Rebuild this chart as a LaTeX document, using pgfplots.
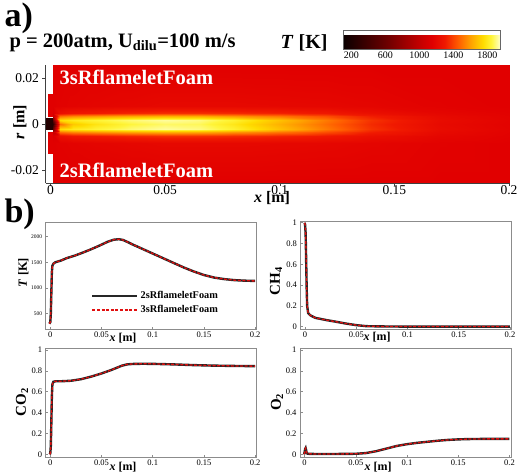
\documentclass[border=0pt]{standalone}
\usepackage{fontspec}
\setmainfont{Liberation Serif}
\usepackage{pgfplots}
\usepackage{pgfplotstable}
\pgfplotsset{compat=1.18}

\definecolor{bgred}{RGB}{225,0,0}
\definecolor{curvered}{RGB}{225,15,15}
\definecolor{framegray}{RGB}{140,140,140}
\definecolor{jetdark}{RGB}{35,0,0}

\pgfplotstableread{
x T
-0.001 300
0 330
0.0005 500
0.001 900
0.0015 1300
0.002 1430
0.003 1470
0.005 1500
0.01 1530
0.016 1580
0.024 1630
0.032 1690
0.04 1755
0.048 1825
0.056 1900
0.062 1940
0.067 1950
0.071 1935
0.076 1890
0.08 1850
0.09 1760
0.1 1670
0.11 1580
0.12 1490
0.13 1400
0.14 1320
0.15 1250
0.16 1200
0.17 1170
0.18 1150
0.19 1140
0.2 1135
}\Tdata

\pgfplotstableread{
x Y
-0.0005 1.0
0 0.98
0.0005 0.9
0.001 0.65
0.0015 0.38
0.002 0.2
0.003 0.13
0.005 0.11
0.01 0.085
0.02 0.065
0.03 0.048
0.04 0.03
0.05 0.015
0.06 0.005
0.08 0.002
0.1 0.001
0.15 0.001
0.2 0.001
}\CHdata

\pgfplotstableread{
x Y
-0.0005 0
0 0.01
0.0005 0.08
0.001 0.3
0.0015 0.55
0.002 0.67
0.003 0.695
0.005 0.70
0.01 0.70
0.02 0.705
0.03 0.72
0.04 0.745
0.05 0.775
0.06 0.81
0.065 0.83
0.07 0.85
0.075 0.862
0.08 0.866
0.09 0.868
0.1 0.867
0.12 0.862
0.14 0.855
0.16 0.85
0.18 0.847
0.2 0.845
}\COdata

\pgfplotstableread{
x Y
-0.0005 0.0
0 0.02
0.0005 0.05
0.001 0.06
0.0015 0.04
0.002 0.015
0.003 0.005
0.01 0.003
0.03 0.003
0.05 0.005
0.06 0.012
0.07 0.03
0.08 0.055
0.09 0.08
0.1 0.097
0.11 0.11
0.12 0.12
0.13 0.13
0.14 0.138
0.15 0.143
0.16 0.146
0.18 0.148
0.2 0.148
}\Odata

\pgfplotsset{
  bstyle/.style={
    scale only axis, anchor=south west, width=211pt,
    xmin=-0.0045, xmax=0.2015,
    scaled ticks=false,
    axis line style={framegray, line width=0.8pt},
    tick style={framegray, line width=0.6pt}, major tick length=2.5pt,
    xtick pos=bottom, ytick pos=left,
    xtick={0,0.05,0.1,0.15,0.2}, xticklabels={0,0.05,0.1,0.15,0.2},
    ticklabel style={font=\fontsize{8.5}{10}\selectfont},
    xticklabel style={yshift=1pt},
    /pgf/number format/assume math mode=true,
  },
  blk/.style={black!85, line width=2.4pt},
  rdd/.style={curvered, line width=1.3pt, dash pattern=on 3pt off 1.6pt},
}

\begin{document}
\begin{tikzpicture}[x=1pt,y=1pt]
\useasboundingbox (0,0) rectangle (524,475);

% ---------------- panel a ----------------
\begin{axis}[
  at={(45.5pt,291.8pt)}, anchor=south west,
  scale only axis, width=463.5pt, height=117.8pt,
  xmin=-0.0022, xmax=0.2, ymin=-0.0255, ymax=0.0255,
  scaled ticks=false,
  axis lines*=left, axis line style={black!75, line width=0.7pt},
  xtick={0,0.05,0.1,0.15,0.2}, xticklabels={0,0.05,0.1,0.15,0.2},
  ytick={-0.02,0,0.02}, yticklabels={-0.02,0,0.02},
  tick align=outside, major tick length=3pt, tick style={black!75},
  ticklabel style={font=\fontsize{13.5}{15}\selectfont},
  xticklabel style={yshift=4.5pt},
  /pgf/number format/assume math mode=true,
  colormap={flame}{rgb255(100pt)=(10,0,0) rgb255(600pt)=(105,0,0) rgb255(1000pt)=(195,0,0) rgb255(1150pt)=(225,0,0) rgb255(1300pt)=(240,25,0) rgb255(1450pt)=(255,90,0) rgb255(1600pt)=(255,160,0) rgb255(1750pt)=(255,220,0) rgb255(1850pt)=(255,245,60) rgb255(1950pt)=(255,255,200)},
  point meta min=100, point meta max=1950,
  colorbar horizontal,
  colorbar style={
    at={(parent axis.north west)}, anchor=south west,
    xshift=297.5pt, yshift=24.5pt,
    scale only axis, width=157pt, height=19pt,
    xtick={200,600,1000,1400,1800}, xticklabels={200,600,1000,1400,1800},
    xticklabel style={font=\fontsize{10}{12}\selectfont, yshift=1pt},
    major tick length=0pt, axis line style={black!60, line width=0.4pt},
  },
  axis on top,
]
\addplot[surf, shader=interp, mesh/rows=11, mesh/cols=13, point meta=explicit]
table[x=x, y=r, meta=T] {
x r T
0.001 -0.0255 1150
0.004 -0.0255 1150
0.01 -0.0255 1150
0.02 -0.0255 1150
0.035 -0.0255 1150
0.05 -0.0255 1150
0.065 -0.0255 1150
0.08 -0.0255 1150
0.1 -0.0255 1150
0.12 -0.0255 1150
0.14 -0.0255 1150
0.17 -0.0255 1150
0.2 -0.0255 1150
0.001 -0.008 1150
0.004 -0.008 1160
0.01 -0.008 1170
0.02 -0.008 1180
0.035 -0.008 1190
0.05 -0.008 1200
0.065 -0.008 1200
0.08 -0.008 1200
0.1 -0.008 1195
0.12 -0.008 1190
0.14 -0.008 1180
0.17 -0.008 1160
0.2 -0.008 1150
0.001 -0.005 1120
0.004 -0.005 1240
0.01 -0.005 1280
0.02 -0.005 1300
0.035 -0.005 1330
0.05 -0.005 1350
0.065 -0.005 1350
0.08 -0.005 1340
0.1 -0.005 1320
0.12 -0.005 1290
0.14 -0.005 1240
0.17 -0.005 1185
0.2 -0.005 1160
0.001 -0.0035 1000
0.004 -0.0035 1500
0.01 -0.0035 1550
0.02 -0.0035 1580
0.035 -0.0035 1620
0.05 -0.0035 1640
0.065 -0.0035 1630
0.08 -0.0035 1580
0.1 -0.0035 1510
0.12 -0.0035 1420
0.14 -0.0035 1310
0.17 -0.0035 1205
0.2 -0.0035 1165
0.001 -0.002 600
0.004 -0.002 1750
0.01 -0.002 1800
0.02 -0.002 1840
0.035 -0.002 1890
0.05 -0.002 1920
0.065 -0.002 1900
0.08 -0.002 1830
0.1 -0.002 1680
0.12 -0.002 1520
0.14 -0.002 1360
0.17 -0.002 1220
0.2 -0.002 1170
0.001 0 300
0.004 0 1500
0.01 0 1700
0.02 0 1780
0.035 0 1850
0.05 0 1880
0.065 0 1870
0.08 0 1790
0.1 0 1640
0.12 0 1490
0.14 0 1340
0.17 0 1210
0.2 0 1165
0.001 0.002 600
0.004 0.002 1750
0.01 0.002 1800
0.02 0.002 1840
0.035 0.002 1890
0.05 0.002 1920
0.065 0.002 1900
0.08 0.002 1830
0.1 0.002 1680
0.12 0.002 1520
0.14 0.002 1360
0.17 0.002 1220
0.2 0.002 1170
0.001 0.0035 1000
0.004 0.0035 1500
0.01 0.0035 1550
0.02 0.0035 1580
0.035 0.0035 1620
0.05 0.0035 1640
0.065 0.0035 1630
0.08 0.0035 1580
0.1 0.0035 1510
0.12 0.0035 1420
0.14 0.0035 1310
0.17 0.0035 1205
0.2 0.0035 1165
0.001 0.005 1120
0.004 0.005 1240
0.01 0.005 1280
0.02 0.005 1300
0.035 0.005 1330
0.05 0.005 1350
0.065 0.005 1350
0.08 0.005 1340
0.1 0.005 1320
0.12 0.005 1290
0.14 0.005 1240
0.17 0.005 1185
0.2 0.005 1160
0.001 0.008 1150
0.004 0.008 1160
0.01 0.008 1170
0.02 0.008 1180
0.035 0.008 1190
0.05 0.008 1200
0.065 0.008 1200
0.08 0.008 1200
0.1 0.008 1195
0.12 0.008 1190
0.14 0.008 1180
0.17 0.008 1160
0.2 0.008 1150
0.001 0.0255 1150
0.004 0.0255 1150
0.01 0.0255 1150
0.02 0.0255 1150
0.035 0.0255 1150
0.05 0.0255 1150
0.065 0.0255 1150
0.08 0.0255 1150
0.1 0.0255 1150
0.12 0.0255 1150
0.14 0.0255 1150
0.17 0.0255 1150
0.2 0.0255 1150
};
% inlet strip and nozzle
\addplot[fill=bgred, draw=none] coordinates {(-0.0011,-0.013) (0.0012,-0.013) (0.0012,0.013) (-0.0011,0.013)} -- cycle;
\addplot[fill=jetdark, draw=none] coordinates {(-0.0022,-0.0026) (0.0012,-0.0026) (0.0012,0.0026) (-0.0022,0.0026)} -- cycle;
\addplot[white, line width=1.2pt] coordinates {(-0.0022,0.0029) (0.0011,0.0029)};
\addplot[white, line width=1.2pt] coordinates {(-0.0022,-0.0029) (0.0011,-0.0029)};
\end{axis}

% panel a texts
\node[font=\fontsize{34}{38}\selectfont\bfseries, anchor=west] at (1,457) {a)};
\node[font=\fontsize{20.5}{24}\selectfont\bfseries, anchor=west] at (6,432) {p = 200atm, U\textsubscript{dilu}=100 m/s};
\node[font=\fontsize{20}{24}\selectfont\bfseries, anchor=east] at (331,432) {\textit{T} [K]};
\node[font=\fontsize{20.5}{24}\selectfont\bfseries, text=white, anchor=west] at (56,397.5) {3sRflameletFoam};
\node[font=\fontsize{20.5}{24}\selectfont\bfseries, text=white, anchor=west] at (56,305) {2sRflameletFoam};
\node[font=\fontsize{16}{18}\selectfont\bfseries, rotate=90] at (20,353) {\textit{r} [m]};
\node[font=\fontsize{16}{18}\selectfont\bfseries] at (272,277) {\textit{x} [m]};

% ---------------- panel b ----------------
\node[font=\fontsize{34}{38}\selectfont\bfseries, anchor=west] at (1,261) {b)};

% T
\begin{axis}[bstyle, at={(45.7pt,145.7pt)}, height=107pt,
  ymin=190, ymax=2280,
  ytick={500,1000,1500,2000}, yticklabels={500,1000,1500,2000},
  yticklabel style={font=\fontsize{5.5}{6}\selectfont},
  legend style={at={(0.215,0.375)}, anchor=north west, draw=none, fill=none,
    font=\fontsize{10.3}{12}\selectfont\bfseries, row sep=1.5pt,
    inner sep=0pt, cells={anchor=west}},
  legend image code/.code={\draw[#1] (0pt,0pt) -- (45pt,0pt);},
]
\addplot[blk] table[x=x,y=T] {\Tdata};
\addplot[rdd] table[x=x,y=T] {\Tdata};
\legend{2sRflameletFoam, 3sRflameletFoam}
\end{axis}

% CH4
\begin{axis}[bstyle, at={(300.5pt,145.5pt)}, height=108.5pt,
  ymin=-0.027, ymax=1.017,
  ytick={0,0.2,0.4,0.6,0.8,1}, yticklabels={0,0.2,0.4,0.6,0.8,1},
]
\addplot[blk] table[x=x,y=Y] {\CHdata};
\addplot[rdd] table[x=x,y=Y] {\CHdata};
\end{axis}

% CO2
\begin{axis}[bstyle, at={(45.7pt,18pt)}, height=109pt,
  ymin=-0.026, ymax=1.019,
  ytick={0,0.2,0.4,0.6,0.8,1}, yticklabels={0,0.2,0.4,0.6,0.8,1},
]
\addplot[blk] table[x=x,y=Y] {\COdata};
\addplot[rdd] table[x=x,y=Y] {\COdata};
\end{axis}

% O2
\begin{axis}[bstyle, at={(300pt,18pt)}, height=109pt,
  ymin=-0.026, ymax=1.019,
  ytick={0,0.2,0.4,0.6,0.8,1}, yticklabels={0,0.2,0.4,0.6,0.8,1},
]
\addplot[blk] table[x=x,y=Y] {\Odata};
\addplot[rdd] table[x=x,y=Y] {\Odata};
\end{axis}

% panel b labels
\node[font=\fontsize{12.5}{14}\selectfont\bfseries, rotate=90] at (23.5,202.5) {\textit{T} [K]};
\node[font=\fontsize{15}{17}\selectfont\bfseries, rotate=90] at (276,194) {CH\textsubscript{4}};
\node[font=\fontsize{15}{17}\selectfont\bfseries, rotate=90] at (22,73) {CO\textsubscript{2}};
\node[font=\fontsize{15}{17}\selectfont\bfseries, rotate=90] at (277,73) {O\textsubscript{2}};
\node[font=\fontsize{12}{14}\selectfont\bfseries] at (123,137) {\textit{x} [m]};
\node[font=\fontsize{12}{14}\selectfont\bfseries] at (377,138) {\textit{x} [m]};
\node[font=\fontsize{12}{14}\selectfont\bfseries] at (123,8) {\textit{x} [m]};
\node[font=\fontsize{12}{14}\selectfont\bfseries] at (378,8) {\textit{x} [m]};
\end{tikzpicture}
\end{document}
